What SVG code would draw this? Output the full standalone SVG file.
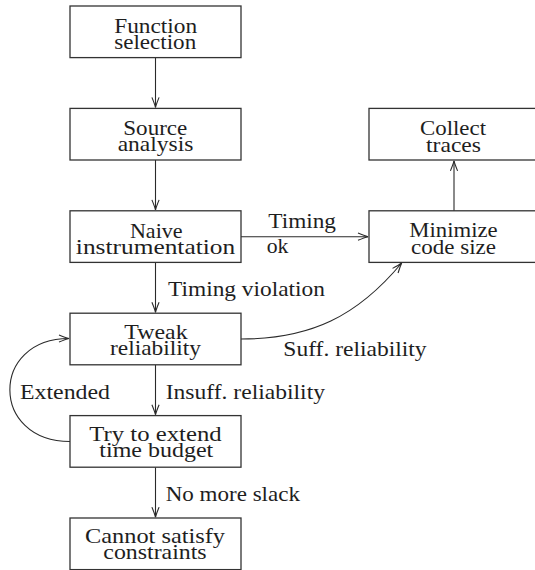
<svg xmlns="http://www.w3.org/2000/svg" width="535" height="570" viewBox="0 0 535 570">
<defs>
<marker id="arr" markerUnits="userSpaceOnUse" markerWidth="12" markerHeight="9" refX="11" refY="4.5" orient="auto">
<path d="M1,0.9 Q7.5,3.6 11,4.5 Q7.5,5.4 1,8.1" fill="none" stroke="#2a2a2a" stroke-width="1.1"/>
</marker>
</defs>
<g id="connectors" fill="none" stroke="#2a2a2a" stroke-width="1.1" marker-end="url(#arr)">
<path d="M155.5,57.6 V107.4"/>
<path d="M155.5,160 V209.9"/>
<path d="M155.5,262.4 V312.3"/>
<path d="M241,236.7 H368"/>
<path d="M454,262.4 V160.9"/>
<path d="M155.5,364.8 V414.7"/>
<path d="M155.5,467.2 V517.1"/>
<path d="M241,339 C310.7,339 357.2,316.4 401.7,263"/>
<path d="M70,441.5 C-10,441.5 -10,338.5 69,338.5"/>
</g>
<g id="labels" fill="#1e1e1e">
<text font-family="Liberation Serif, Times New Roman, serif" font-size="21" x="268.3" y="228.3" textLength="67.7" lengthAdjust="spacingAndGlyphs">Timing</text>
<text font-family="Liberation Serif, Times New Roman, serif" font-size="21" x="266.7" y="253.3" textLength="21.7" lengthAdjust="spacingAndGlyphs">ok</text>
<text font-family="Liberation Serif, Times New Roman, serif" font-size="21" x="168" y="296" textLength="157" lengthAdjust="spacingAndGlyphs">Timing violation</text>
<text font-family="Liberation Serif, Times New Roman, serif" font-size="21" x="283.3" y="356" textLength="143.3" lengthAdjust="spacingAndGlyphs">Suff. reliability</text>
<text font-family="Liberation Serif, Times New Roman, serif" font-size="21" x="20" y="399.3" textLength="90" lengthAdjust="spacingAndGlyphs">Extended</text>
<text font-family="Liberation Serif, Times New Roman, serif" font-size="21" x="165.7" y="399.3" textLength="159.3" lengthAdjust="spacingAndGlyphs">Insuff. reliability</text>
<text font-family="Liberation Serif, Times New Roman, serif" font-size="21" x="165.7" y="501" textLength="134.3" lengthAdjust="spacingAndGlyphs">No more slack</text>
</g>
<g id="boxes" stroke="#333" stroke-width="1.3" fill="#fff">
<rect x="70" y="6" width="171" height="51.6"/>
<rect x="70" y="108.4" width="171" height="51.6"/>
<rect x="70" y="210.8" width="171" height="51.6"/>
<rect x="70" y="313.2" width="171" height="51.6"/>
<rect x="70" y="415.6" width="171" height="51.6"/>
<rect x="70" y="518" width="171" height="51.6"/>
<rect x="369" y="210.8" width="171" height="51.6"/>
<rect x="369" y="108.4" width="171" height="51.6"/>
</g>
<g id="function-selection" fill="#1e1e1e" text-anchor="middle">
<text font-family="Liberation Serif, Times New Roman, serif" font-size="21" x="155.7" y="32.5" textLength="83" lengthAdjust="spacingAndGlyphs">Function</text>
<text font-family="Liberation Serif, Times New Roman, serif" font-size="21" x="155.2" y="48.5" textLength="82" lengthAdjust="spacingAndGlyphs">selection</text>
</g>
<g id="source-analysis" fill="#1e1e1e" text-anchor="middle">
<text font-family="Liberation Serif, Times New Roman, serif" font-size="21" x="155.3" y="135" textLength="64" lengthAdjust="spacingAndGlyphs">Source</text>
<text font-family="Liberation Serif, Times New Roman, serif" font-size="21" x="155.5" y="151" textLength="75.7" lengthAdjust="spacingAndGlyphs">analysis</text>
</g>
<g id="naive-instrumentation" fill="#1e1e1e" text-anchor="middle">
<text font-family="Liberation Serif, Times New Roman, serif" font-size="21" x="156.3" y="237.8" textLength="52.7" lengthAdjust="spacingAndGlyphs">Naive</text>
<text font-family="Liberation Serif, Times New Roman, serif" font-size="21" x="155.5" y="253.8" textLength="159.3" lengthAdjust="spacingAndGlyphs">instrumentation</text>
</g>
<g id="tweak-reliability" fill="#1e1e1e" text-anchor="middle">
<text font-family="Liberation Serif, Times New Roman, serif" font-size="21" x="156" y="339" textLength="63.3" lengthAdjust="spacingAndGlyphs">Tweak</text>
<text font-family="Liberation Serif, Times New Roman, serif" font-size="21" x="155.5" y="355.3" textLength="91" lengthAdjust="spacingAndGlyphs">reliability</text>
</g>
<g id="try-extend" fill="#1e1e1e" text-anchor="middle">
<text font-family="Liberation Serif, Times New Roman, serif" font-size="21" x="155.5" y="441.2" textLength="132.3" lengthAdjust="spacingAndGlyphs">Try to extend</text>
<text font-family="Liberation Serif, Times New Roman, serif" font-size="21" x="156.3" y="457.3" textLength="114" lengthAdjust="spacingAndGlyphs">time budget</text>
</g>
<g id="cannot-satisfy" fill="#1e1e1e" text-anchor="middle">
<text font-family="Liberation Serif, Times New Roman, serif" font-size="21" x="155" y="543" textLength="140" lengthAdjust="spacingAndGlyphs">Cannot satisfy</text>
<text font-family="Liberation Serif, Times New Roman, serif" font-size="21" x="155" y="559.3" textLength="103.3" lengthAdjust="spacingAndGlyphs">constraints</text>
</g>
<g id="minimize-code-size" fill="#1e1e1e" text-anchor="middle">
<text font-family="Liberation Serif, Times New Roman, serif" font-size="21" x="453.5" y="237.3" textLength="88.3" lengthAdjust="spacingAndGlyphs">Minimize</text>
<text font-family="Liberation Serif, Times New Roman, serif" font-size="21" x="453.5" y="253.5" textLength="85" lengthAdjust="spacingAndGlyphs">code size</text>
</g>
<g id="collect-traces" fill="#1e1e1e" text-anchor="middle">
<text font-family="Liberation Serif, Times New Roman, serif" font-size="21" x="453" y="135" textLength="66" lengthAdjust="spacingAndGlyphs">Collect</text>
<text font-family="Liberation Serif, Times New Roman, serif" font-size="21" x="453.5" y="151.5" textLength="55" lengthAdjust="spacingAndGlyphs">traces</text>
</g>
</svg>
